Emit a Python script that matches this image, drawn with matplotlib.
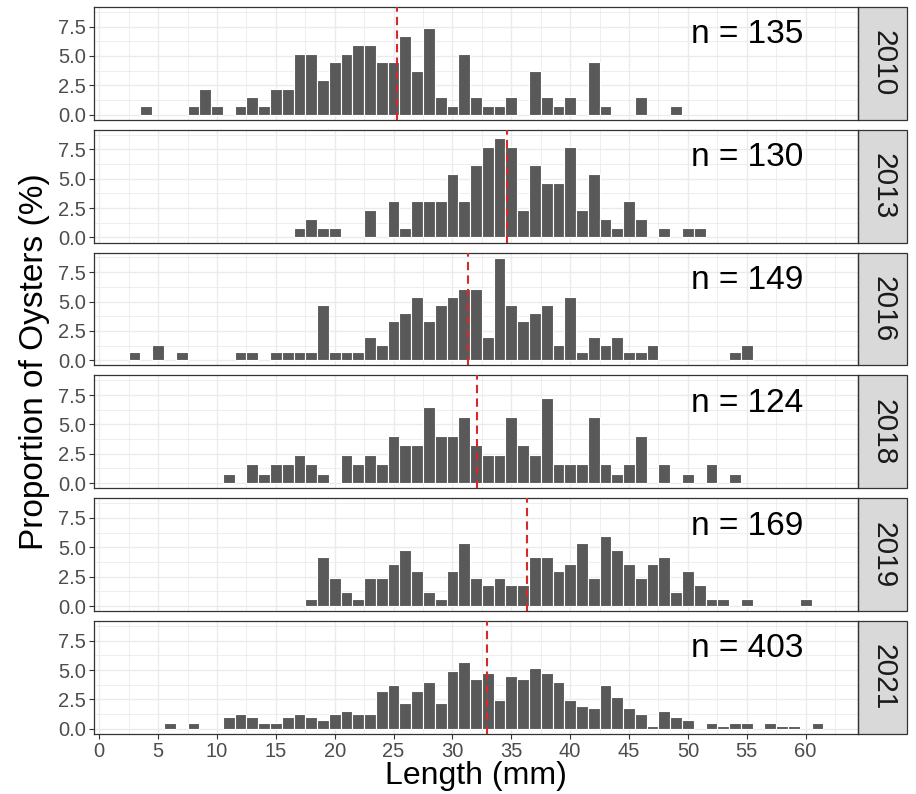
import matplotlib
matplotlib.use("Agg")
import matplotlib.pyplot as plt
from matplotlib.patches import Rectangle
import numpy as np

plt.rcParams['font.family'] = ['Liberation Sans', 'DejaVu Sans']

years = ['2010', '2013', '2016', '2018', '2019', '2021']

# oyster counts per 1 mm length class
len_2010 = [4, 8, 9, 10, 12, 13, 14, 15, 16, 17, 18, 19, 20, 21, 22, 23, 24, 25, 26, 27,
            28, 29, 30, 31, 32, 33, 34, 35, 37, 38, 39, 40, 42, 43, 46, 49]
cnt_2010 = [1, 1, 3, 1, 1, 2, 1, 3, 3, 7, 7, 4, 6, 7, 8, 8, 6, 6, 9, 5,
            10, 2, 1, 7, 2, 1, 1, 2, 5, 2, 1, 2, 6, 1, 2, 1]

len_2013 = [17, 18, 19, 20, 23, 25, 26, 27, 28, 29, 30, 31, 32, 33, 34, 35, 36, 37, 38, 39,
            40, 41, 42, 43, 44, 45, 46, 48, 50, 51]
cnt_2013 = [1, 2, 1, 1, 3, 4, 1, 4, 4, 4, 7, 4, 8, 10, 11, 10, 3, 8, 6, 6,
            10, 3, 7, 2, 1, 4, 2, 1, 1, 1]

len_2016 = [3, 5, 7, 12, 13, 15, 16, 17, 18, 19, 20, 21, 22, 23, 24, 25, 26, 27, 28, 29,
            30, 31, 32, 33, 34, 35, 36, 37, 38, 39, 40, 41, 42, 43, 44, 45, 46, 47, 54, 55]
cnt_2016 = [1, 2, 1, 1, 1, 1, 1, 1, 1, 7, 1, 1, 1, 3, 2, 5, 6, 8, 5, 7,
            8, 9, 9, 3, 13, 7, 5, 6, 7, 2, 8, 1, 3, 2, 3, 1, 1, 2, 1, 2]

len_2018 = [11, 13, 14, 15, 16, 17, 18, 19, 21, 22, 23, 24, 25, 26, 27, 28, 29, 30, 31, 32,
            33, 34, 35, 36, 37, 38, 39, 40, 41, 42, 43, 44, 45, 46, 48, 50, 52, 54]
cnt_2018 = [1, 2, 1, 2, 2, 3, 2, 1, 3, 2, 3, 2, 5, 4, 4, 8, 5, 5, 7, 4,
            3, 3, 7, 4, 3, 9, 2, 2, 2, 7, 2, 1, 2, 5, 2, 1, 2, 1]

len_2019 = [18, 19, 20, 21, 22, 23, 24, 25, 26, 27, 28, 29, 30, 31, 32, 33, 34, 35, 36, 37,
            38, 39, 40, 41, 42, 43, 44, 45, 46, 47, 48, 49, 50, 51, 52, 53, 55, 60]
cnt_2019 = [1, 7, 4, 2, 1, 4, 4, 6, 8, 5, 2, 1, 5, 9, 4, 3, 4, 3, 3, 7,
            7, 5, 6, 9, 4, 10, 8, 6, 4, 6, 7, 2, 5, 3, 1, 1, 1, 1]

len_2021 = [6, 8, 11, 12, 13, 14, 15, 16, 17, 18, 19, 20, 21, 22, 23, 24, 25, 26, 27, 28,
            29, 30, 31, 32, 33, 34, 35, 36, 37, 38, 39, 40, 41, 42, 43, 44, 45, 46, 47, 48,
            49, 50, 52, 53, 54, 55, 57, 58, 59, 61]
cnt_2021 = [2, 2, 4, 5, 4, 2, 2, 4, 5, 4, 3, 5, 6, 5, 5, 13, 15, 9, 13, 16,
            9, 20, 23, 17, 19, 10, 18, 17, 21, 19, 16, 10, 8, 7, 15, 11, 7, 5, 1, 6,
            4, 3, 2, 1, 2, 2, 2, 1, 1, 2]

# mean shell length for each year
mean_len = [25.3, 34.6, 31.3, 32.1, 36.3, 32.9]

lengths = [len_2010, len_2013, len_2016, len_2018, len_2019, len_2021]
counts = [cnt_2010, cnt_2013, cnt_2016, cnt_2018, cnt_2019, cnt_2021]

props = [np.array(c) / sum(c) * 100 for c in counts]
ymax = max(p.max() for p in props)
xmin = min(min(l) for l in lengths) - 0.5
xmax = max(max(l) for l in lengths) + 0.5
xpad = (xmax - xmin) * 0.05

fig, axes = plt.subplots(6, 1, figsize=(9.16, 7.94), dpi=100, sharex=True)
fig.subplots_adjust(left=0.1026, right=0.9367, top=0.9912, bottom=0.0756, hspace=0.089)

for i, (ax, yr, l, c, p, m) in enumerate(zip(axes, years, lengths, counts, props, mean_len)):
    ax.set_axisbelow(True)
    ax.bar(l, p, width=1.0, color='#595959', edgecolor='white', linewidth=0.8, zorder=2)
    ax.axvline(m, color='#d42a2a', linestyle=(0, (4, 2.5)), linewidth=1.5, zorder=3)
    ax.text(55, 6.8, f'n = {sum(c)}', fontsize=24, ha='center', va='center', color='black')

    ax.set_xlim(xmin - xpad, xmax + xpad)
    ax.set_ylim(-0.05 * ymax, 1.05 * ymax)
    ax.set_xticks(np.arange(0, 61, 5))
    ax.set_xticks(np.arange(2.5, 63, 5), minor=True)
    ax.set_yticks([0, 2.5, 5, 7.5])
    ax.set_yticks([1.25, 3.75, 6.25, 8.75], minor=True)
    ax.set_yticklabels(['0.0', '2.5', '5.0', '7.5'])
    ax.grid(which='major', color='#ebebeb', linewidth=1.0)
    ax.grid(which='minor', color='#ebebeb', linewidth=0.6)
    ax.tick_params(which='major', length=3.5, width=0.8, color='#333333',
                   labelsize=14.5, labelcolor='#4d4d4d', pad=2)
    ax.tick_params(which='minor', length=0)
    if i < len(axes) - 1:
        ax.tick_params(axis='x', which='both', bottom=False, labelbottom=False)
    for s in ax.spines.values():
        s.set_color('#333333')
        s.set_linewidth(0.9)

    # facet strip on the right
    strip = Rectangle((1.0, 0.0), 0.064, 1.0, transform=ax.transAxes, clip_on=False,
                      facecolor='#d9d9d9', edgecolor='#333333', linewidth=0.9)
    ax.add_patch(strip)
    ax.text(1.033, 0.5, yr, transform=ax.transAxes, rotation=270, ha='center',
            va='center', fontsize=21.5, color='#1a1a1a')

axes[-1].set_xlabel('Length (mm)', fontsize=23, labelpad=0)
fig.text(0.038, 0.544, 'Proportion of Oysters (%)', rotation=90, ha='center',
         va='center', fontsize=24)

fig.savefig('out.png', dpi=100, facecolor='white')
